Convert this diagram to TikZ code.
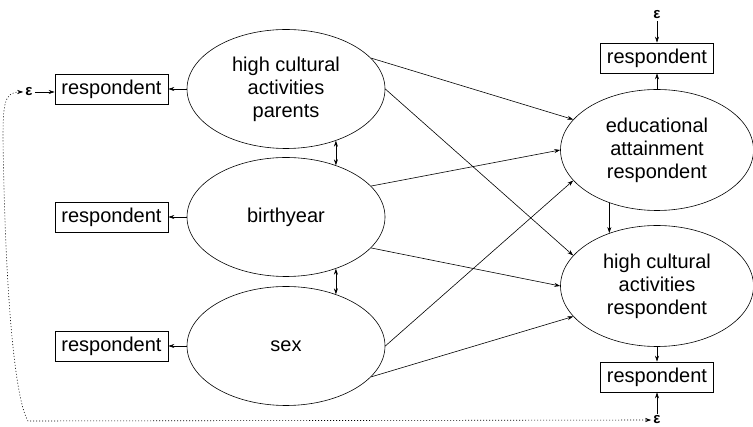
\documentclass[tikz,border=0pt]{standalone}
\usepackage{fontspec}
\setmainfont{Liberation Sans}
\usepackage{tikz}
\usetikzlibrary{shapes,arrows.meta,positioning}

\tikzset{
	latent/.style={draw, ellipse, inner sep=0pt, align=center, line width=0.6pt, minimum width=198pt, minimum height=119pt},
	indicator/.style={draw, rectangle, inner sep=0pt, line width=0.6pt, minimum width=113pt, minimum height=30pt},
	resid/.style={inner sep=2pt, font=\fontsize{15}{17}\selectfont\bfseries},
	effect/.style={-{Stealth[length=6pt,width=4pt]}, line width=0.6pt},
	cov/.style={{Stealth[length=6pt,width=4pt]}-{Stealth[length=6pt,width=4pt]}, line width=0.6pt}
}

\begin{document}
\begin{tikzpicture}[x=1pt, y=-1pt, font=\fontsize{20}{23}\selectfont]
		\useasboundingbox (0,0) rectangle (753,427);
		% latent variables
		\node[latent] (parents) at (286,89) {high cultural\\activities\\parents};
		\node[latent] (birthyear) at (286,217) {birthyear};
		\node[latent] (sex) at (286,346) {sex};
		\node[latent, minimum width=193pt, minimum height=121pt] (edu) at (657,150) {educational\\attainment\\respondent};
		\node[latent, minimum width=193pt, minimum height=121pt] (cult) at (657,286) {high cultural\\activities\\respondent};
		% indicators
		\node[indicator] (ind1) at (111.5,89) {respondent};
		\node[indicator] (ind2) at (111.5,217) {respondent};
		\node[indicator] (ind3) at (111.5,346) {respondent};
		\node[indicator] (eduind) at (657,58) {respondent};
		\node[indicator] (cultind) at (657,377) {respondent};
		% residuals
		\node[resid] (e1) at (29,92) {ε};
		\node[resid] (e4) at (657,15) {ε};
		\node[resid] (e5) at (657,420) {ε};

		\draw[effect] (parents.west) -- (ind1.east);
		\draw[effect] (birthyear.west) -- (ind2.east);
		\draw[effect] (sex.west) -- (ind3.east);
		\draw[effect] (edu.north) -- (eduind.south);
		\draw[effect] (cult.south) -- (cultind.north);
		\draw[effect] (e1.east) -- (e1.east -| ind1.west);
		\draw[effect] (e4.south) -- (eduind.north);
		\draw[effect] (e5.north) -- (cultind.south);

		\draw[effect] (parents.20) -- (edu.160);
		\draw[effect] (parents.0) -- (cult.160);
		\draw[effect] (birthyear.20) -- (edu.180);
		\draw[effect] (birthyear.-20) -- (cult.180);
		\draw[effect] (sex.0) -- (edu.200);
		\draw[effect] (sex.-20) -- (cult.200);
		\draw[effect] (edu.-132) -- (cult.132);

		\draw[cov] (parents.-46) -- (birthyear.46);
		\draw[cov] (birthyear.-46) -- (sex.46);
		\draw[cov, dash pattern=on 1pt off 2pt] (e1.west) .. controls (4,92) and (3,105) .. (3,140) .. controls (6,330) and (18,405) .. (28,421) -- (e5.west);
	\end{tikzpicture}
\end{document}
